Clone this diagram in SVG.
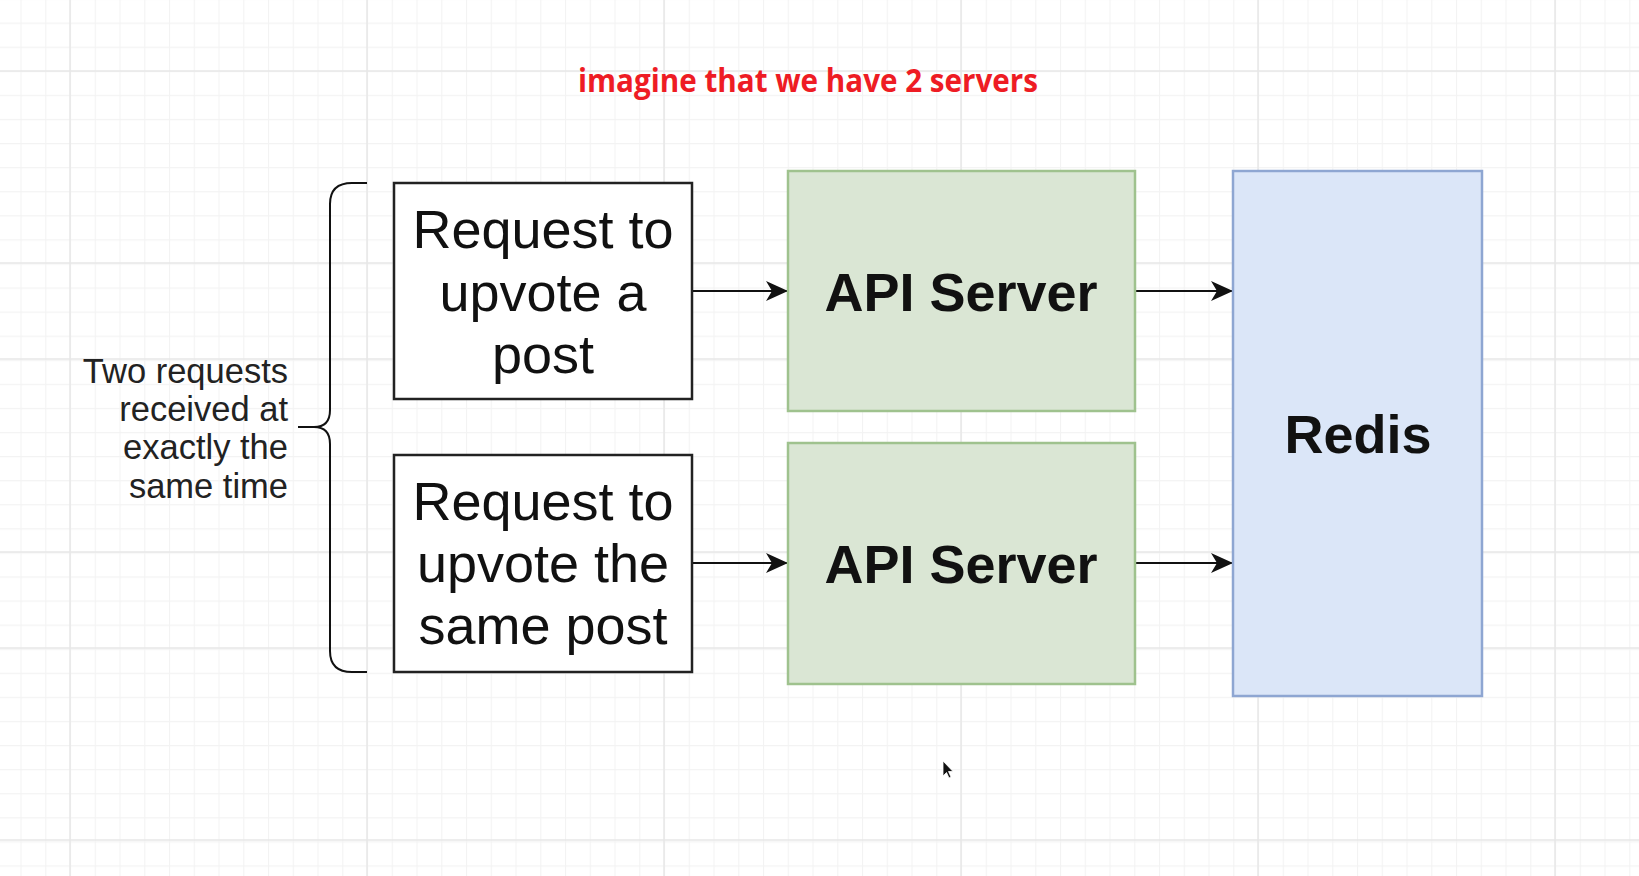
<svg xmlns="http://www.w3.org/2000/svg" width="1639" height="876" viewBox="0 0 1639 876">
<style>
.req{fill:#ffffff;stroke:#222222;stroke-width:2.5}
.api{fill:#dae6d4;stroke:#9fc28e;stroke-width:2.5}
.redis{fill:#dbe6f8;stroke:#8ea6d2;stroke-width:2.5}
.t{font-family:"Liberation Sans",Arial,sans-serif;fill:#111111;text-anchor:middle}
.big{font-size:54px}
.bold{font-size:54px;font-weight:bold}
.side{font-family:"Liberation Sans",Arial,sans-serif;font-size:34.5px;fill:#222222;text-anchor:end}
.edge{fill:none;stroke:#111111;stroke-width:2}
.grid-minor{stroke:#f3f3f3;stroke-width:1.2}
.grid-major{stroke:#e7e7e7;stroke-width:1.5}
</style>
<defs>
<pattern id="minor" x="20.5" y="22.6" width="24.75" height="24.08" patternUnits="userSpaceOnUse">
<path d="M0.5,0 V24.08 M0,0.5 H24.75" class="grid-minor" fill="none"/>
</pattern>
<marker id="arrow" viewBox="0 0 22 20" refX="21" refY="10" markerWidth="22" markerHeight="20" markerUnits="userSpaceOnUse" orient="auto">
<path d="M0,0 L22,10 L0,20 L6,10 Z" fill="#111111"/>
</marker>
</defs>
<g id="background">
<rect x="0" y="0" width="1639" height="876" fill="#ffffff"/>
<rect x="0" y="0" width="1639" height="876" fill="url(#minor)"/>
<path class="grid-major" fill="none" d="M70,0 V876 M367,0 V876 M664,0 V876 M961,0 V876 M1258,0 V876 M1555,0 V876 M0,71 H1639 M0,263 H1639 M0,359 H1639 M0,552 H1639 M0,648 H1639 M0,840 H1639"/>
</g>
<g id="title">
<text x="808" y="92" font-family="'Open Sans','Noto Sans',sans-serif" font-size="32" font-weight="bold" fill="#ee1c24" text-anchor="middle" textLength="460" lengthAdjust="spacingAndGlyphs">imagine that we have 2 servers</text>
</g>
<g id="connectors">
<path class="edge" d="M367,183 H352 Q330,183 330,204 V410 Q330,427 314,427 H298 M314,427 Q330,427 330,444 V651 Q330,672 352,672 H367"/>
<line class="edge" x1="692" y1="291" x2="787" y2="291" marker-end="url(#arrow)"/>
<line class="edge" x1="692" y1="563" x2="787" y2="563" marker-end="url(#arrow)"/>
<line class="edge" x1="1135" y1="291" x2="1232" y2="291" marker-end="url(#arrow)"/>
<line class="edge" x1="1135" y1="563" x2="1232" y2="563" marker-end="url(#arrow)"/>
</g>
<g id="note-two-requests">
<text class="side" x="288" y="383">Two requests</text>
<text class="side" x="288" y="421">received at</text>
<text class="side" x="288" y="459">exactly the</text>
<text class="side" x="288" y="498">same time</text>
</g>
<g id="request-1">
<rect class="req" x="394" y="183" width="298" height="216"/>
<text class="t big" x="543" y="248">Request to</text>
<text class="t big" x="543" y="311">upvote a</text>
<text class="t big" x="543" y="373">post</text>
</g>
<g id="request-2">
<rect class="req" x="394" y="455" width="298" height="217"/>
<text class="t big" x="543" y="520">Request to</text>
<text class="t big" x="543" y="582">upvote the</text>
<text class="t big" x="543" y="644">same post</text>
</g>
<g id="api-server-1">
<rect class="api" x="788" y="171" width="347" height="240"/>
<text class="t bold" x="961" y="311">API Server</text>
</g>
<g id="api-server-2">
<rect class="api" x="788" y="443" width="347" height="241"/>
<text class="t bold" x="961" y="583">API Server</text>
</g>
<g id="redis">
<rect class="redis" x="1233" y="171" width="249" height="525"/>
<text class="t bold" x="1358" y="453">Redis</text>
</g>
<g id="cursor">
<path d="M943,761 L943,776 L946.5,772.5 L949,778 L951,777 L948.5,771.5 L953,771.5 Z" fill="#111111" stroke="#ffffff" stroke-width="0.8"/>
</g>
</svg>
